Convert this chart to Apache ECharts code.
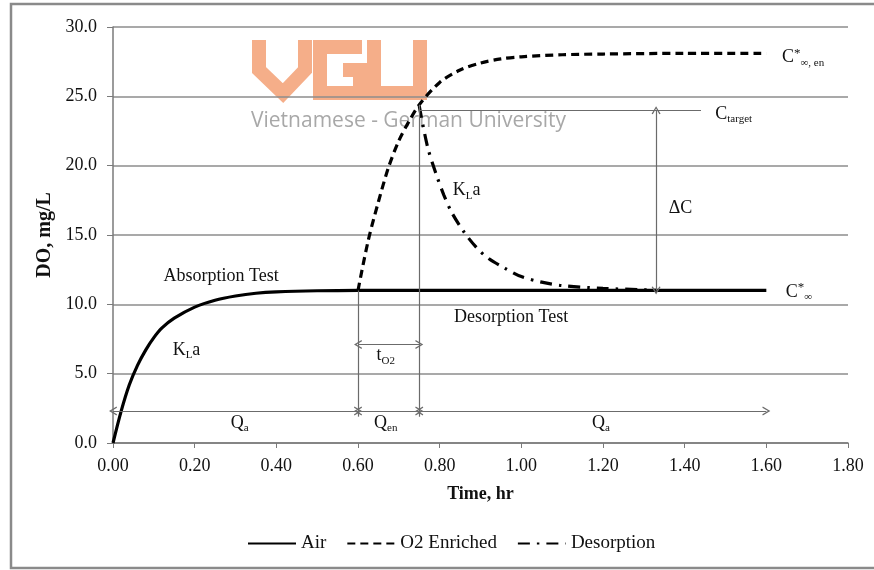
<!DOCTYPE html>
<html>
<head>
<meta charset="utf-8">
<script src="https://cdn.jsdelivr.net/npm/echarts@6/dist/echarts.min.js"></script>
<style>
  html, body { margin: 0; padding: 0; background: #fff; }
  #chart { width: 874px; height: 570px; }
</style>
</head>
<body>
<div id="chart"></div>
<script>
// curves (time in hr, DO in mg/L)
const airTime = [0, 0.02, 0.04, 0.06, 0.08, 0.10, 0.12, 0.15, 0.20, 0.25, 0.30, 0.35, 0.40, 0.50, 0.60, 0.80, 1.00, 1.20, 1.40, 1.60];
const airDO = [0, 2.3, 4.2, 5.6, 6.7, 7.6, 8.3, 9.0, 9.8, 10.3, 10.6, 10.8, 10.9, 10.98, 11.0, 11.0, 11.0, 11.0, 11.0, 11.0];

const enrichedTime = [0.60, 0.625, 0.65, 0.675, 0.70, 0.725, 0.75, 0.80, 0.85, 0.90, 0.95, 1.00, 1.10, 1.20, 1.40, 1.60];
const enrichedDO = [11.0, 14.6, 17.4, 19.9, 21.8, 23.2, 24.4, 26.0, 26.9, 27.4, 27.7, 27.85, 28.0, 28.05, 28.1, 28.1];

const desorbTime = [0.75, 0.77, 0.79, 0.81, 0.83, 0.86, 0.89, 0.92, 0.96, 1.00, 1.05, 1.10, 1.20, 1.30, 1.33];
const desorbDO = [24.3, 21.4, 19.5, 17.9, 16.6, 15.2, 14.1, 13.3, 12.6, 12.0, 11.6, 11.35, 11.15, 11.05, 11.0];

// annotation positions in data units
const phaseTimes = [0, 0.60, 0.75, 1.60];
const phaseArrowDO = 2.3;
const splitLineBottom = 1.9;
const tO2DO = 7.1;
const cStar = 11.0;
const cTarget = 24.0;
const cTargetEnd = 1.44;
const deltaCTime = 1.33;

const serif = '"Liberation Serif", "Times New Roman", serif';
const chevron = 'path://M0,10 L5,0 L10,10 L8.6,10.6 L5,3.2 L1.4,10.6 Z';
const annoColor = '#6b6b6b';

function zip(xs, ys) {
  return xs.map((x, i) => [x, ys[i]]);
}

function seg(x1, y1, x2, y2, arrows) {
  return [
    { coord: [x1, y1], symbol: arrows ? chevron : 'none' },
    { coord: [x2, y2], symbol: arrows ? chevron : 'none' },
  ];
}

function note(x, y, text, size) {
  return { coord: [x, y], label: { formatter: text, fontSize: size || 18 } };
}

const rich = {
  sub: { fontFamily: serif, fontSize: 11, color: '#111', padding: [10, 0, 0, 0] },
  sup: { fontFamily: serif, fontSize: 13, color: '#111', padding: [0, 0, 8, 0] },
  subsm: { fontFamily: serif, fontSize: 11, color: '#111', padding: [11, 0, 0, 0] },
};

const chart = echarts.init(document.getElementById('chart'));

chart.setOption({
  animation: false,
  backgroundColor: '#fff',
  textStyle: { fontFamily: serif },
  graphic: [
    {
      type: 'rect', silent: true, z: -1,
      shape: { x: 11, y: 4, width: 880, height: 564 },
      style: { fill: 'none', stroke: '#8a8a8a', lineWidth: 2.5 },
    },
    {
      type: 'group', silent: true, z: 1,
      children: [
        { type: 'polyline', shape: { points: [[259, 40], [259, 70], [283, 93], [305, 70], [305, 40]] },
          style: { stroke: '#f4a57c', lineWidth: 14, fill: 'none', opacity: 0.9 } },
        { type: 'polyline', shape: { points: [[362, 47], [320, 47], [320, 93], [360, 93], [360, 70], [343, 70]] },
          style: { stroke: '#f4a57c', lineWidth: 14, fill: 'none', opacity: 0.9 } },
        { type: 'polyline', shape: { points: [[374, 40], [374, 93], [420, 93], [420, 40]] },
          style: { stroke: '#f4a57c', lineWidth: 14, fill: 'none', opacity: 0.9 } },
        { type: 'text', left: 251, top: 111,
          style: { text: 'Vietnamese - German University', font: '21px "Open Sans"', fill: '#a8a8a8' } },
      ],
    },
  ],
  grid: { left: 113, right: 26, top: 27, bottom: 127 },
  legend: {
    bottom: 12,
    left: 242,
    data: ['Air', 'O2 Enriched', 'Desorption'],
    itemWidth: 48,
    itemHeight: 10,
    itemGap: 20,
    itemStyle: { opacity: 0 },
    textStyle: { fontFamily: serif, fontSize: 19, color: '#111' },
  },
  xAxis: {
    type: 'value',
    min: 0,
    max: 1.8,
    interval: 0.2,
    name: 'Time, hr',
    nameLocation: 'middle',
    nameGap: 42,
    nameTextStyle: { fontFamily: serif, fontSize: 18, fontWeight: 'bold', color: '#111' },
    axisLine: { lineStyle: { color: '#7a7a7a', width: 1.5 } },
    axisTick: { show: true, length: 5, lineStyle: { color: '#7a7a7a' } },
    axisLabel: { fontFamily: serif, fontSize: 18, color: '#111', margin: 14, formatter: (v) => v.toFixed(2) },
    splitLine: { show: false },
  },
  yAxis: {
    type: 'value',
    min: 0,
    max: 30,
    interval: 5,
    name: 'DO, mg/L',
    nameLocation: 'middle',
    nameGap: 50,
    nameTextStyle: { fontFamily: serif, fontSize: 20, fontWeight: 'bold', color: '#111' },
    axisLine: { show: true, lineStyle: { color: '#7a7a7a', width: 1.5 } },
    axisTick: { show: true, length: 6, lineStyle: { color: '#7a7a7a' } },
    axisLabel: { fontFamily: serif, fontSize: 18, color: '#111', margin: 16, formatter: (v) => v.toFixed(1) },
    splitLine: { lineStyle: { color: '#8c8c8c', width: 1.5 } },
  },
  series: [
    {
      name: 'Air',
      type: 'line',
      data: zip(airTime, airDO),
      smooth: 0.3,
      symbol: 'none',
      z: 4,
      lineStyle: { color: '#000', width: 3.2 },
      itemStyle: { color: '#000' },
    },
    {
      name: 'O2 Enriched',
      type: 'line',
      data: zip(enrichedTime, enrichedDO),
      smooth: 0.3,
      symbol: 'none',
      z: 4,
      lineStyle: { color: '#000', width: 3.2, type: [8, 5] },
      itemStyle: { color: '#000' },
    },
    {
      name: 'Desorption',
      type: 'line',
      data: zip(desorbTime, desorbDO),
      smooth: 0.3,
      symbol: 'none',
      z: 4,
      lineStyle: { color: '#000', width: 3.2, type: [12, 7, 2.5, 7] },
      itemStyle: { color: '#000' },
    },
    {
      name: 'annotations',
      type: 'line',
      data: [],
      z: 3,
      markLine: {
        silent: true,
        symbolSize: [9, 8],
        label: { show: false },
        lineStyle: { color: annoColor, width: 1.2, type: 'solid' },
        emphasis: { disabled: true },
        data: [
          seg(phaseTimes[1], cStar, phaseTimes[1], splitLineBottom, false),
          seg(phaseTimes[2], enrichedDO[6], phaseTimes[2], splitLineBottom, false),
          seg(phaseTimes[0], phaseArrowDO, phaseTimes[1], phaseArrowDO, true),
          seg(phaseTimes[1], phaseArrowDO, phaseTimes[2], phaseArrowDO, true),
          seg(phaseTimes[2], phaseArrowDO, phaseTimes[3], phaseArrowDO, true),
          seg(phaseTimes[1], tO2DO, phaseTimes[2], tO2DO, true),
          seg(phaseTimes[2], cTarget, cTargetEnd, cTarget, false),
          seg(deltaCTime, cTarget, deltaCTime, cStar, true),
        ],
      },
      markPoint: {
        silent: true,
        symbol: 'circle',
        symbolSize: 1,
        itemStyle: { color: 'rgba(0,0,0,0)' },
        label: {
          show: true,
          position: 'inside',
          fontFamily: serif,
          color: '#111',
          rich: rich,
        },
        data: [
          note(0.265, 12.0, 'Absorption Test'),
          note(0.18, 6.7, 'K{sub|L}a'),
          note(0.668, 6.3, 't{sub|O2}'),
          note(0.31, 1.4, 'Q{sub|a}'),
          note(0.668, 1.4, 'Q{sub|en}'),
          note(1.195, 1.4, 'Q{sub|a}'),
          note(0.866, 18.2, 'K{sub|L}a'),
          note(1.39, 16.9, '\u0394C'),
          note(1.52, 23.7, 'C{sub|target}'),
          note(1.69, 27.8, 'C{sup|*}{subsm|\u221e, en}'),
          note(1.68, 10.9, 'C{sup|*}{subsm|\u221e}'),
          note(0.975, 9.1, 'Desorption Test'),
        ],
      },
    },
  ],
});
</script>
</body>
</html>
